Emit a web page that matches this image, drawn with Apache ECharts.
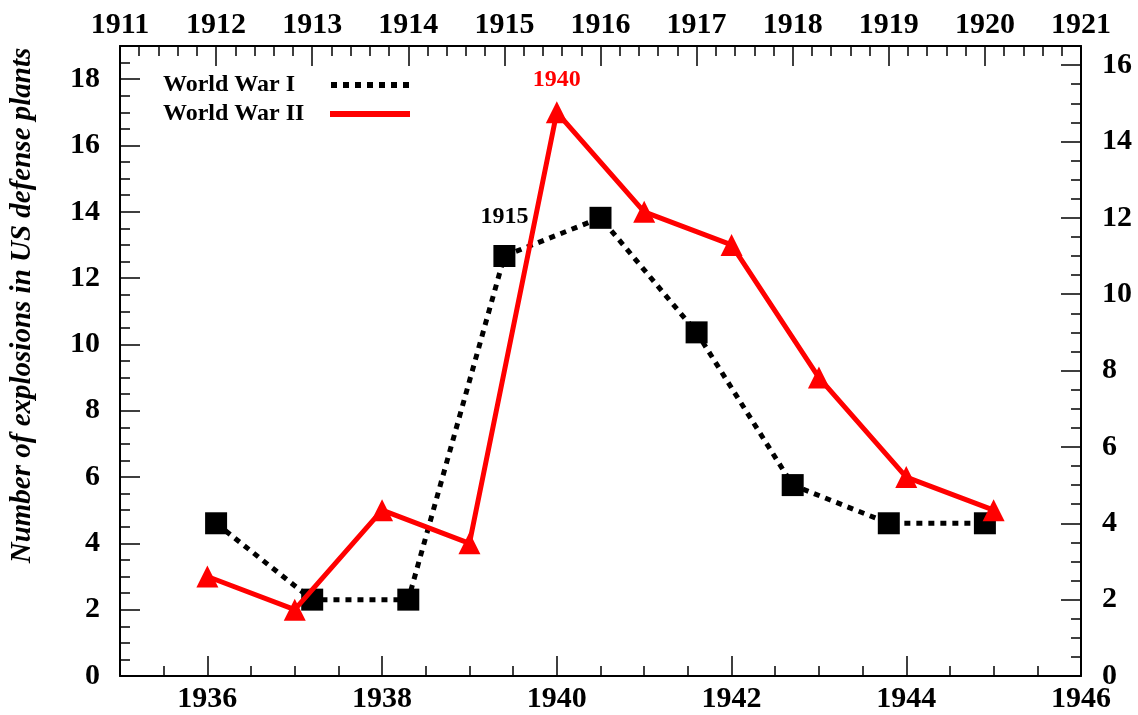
<!DOCTYPE html>
<html>
<head>
<meta charset="utf-8">
<script src="https://cdn.jsdelivr.net/npm/echarts@6/dist/echarts.min.js"></script>
<style>
html, body { margin: 0; padding: 0; background: #fff; }
#chart { width: 1138px; height: 715px; }
</style>
</head>
<body>
<div id="chart"></div>
<script>
// World War I: top axis (years) and right axis (counts)
var wwiYears = [1912, 1913, 1914, 1915, 1916, 1917, 1918, 1919, 1920];
var wwiCounts = [4, 2, 2, 11, 12, 9, 5, 4, 4];
// World War II: bottom axis (years) and left axis (counts)
var wwiiYears = [1936, 1937, 1938, 1939, 1940, 1941, 1942, 1943, 1944, 1945];
var wwiiCounts = [3, 2, 5, 4, 17, 14, 13, 9, 6, 5];
// bottom axis labels / long ticks
var bottomLabels = [1936, 1938, 1940, 1942, 1944, 1946];
var bottomMajorTicks = [1936, 1938, 1940, 1942, 1944];
// years marked with a text label
var wwiMarkYear = 1915;
var wwiiMarkYear = 1940;

var font = '"Liberation Serif", "Times New Roman", serif';
var tickText = { color: '#000', fontFamily: font, fontWeight: 'bold', fontSize: 30 };
var frameLine = { color: '#000', width: 2 };
var tickLine = { color: '#000', width: 1.5 };

function yearText(v) { return String(v); }

function markLabel(year, color, dist) {
	return {
		show: true,
		position: 'top',
		distance: dist,
		formatter: String(year),
		color: color,
		fontFamily: font,
		fontWeight: 'bold',
		fontSize: 24
	};
}

var wwiData = wwiYears.map(function (y, i) {
	var d = { value: [y, wwiCounts[i]] };
	if (y === wwiMarkYear) d.label = markLabel(y, '#000', 16);
	return d;
});
var wwiiData = wwiiYears.map(function (y, i) {
	var d = { value: [y, wwiiCounts[i]] };
	if (y === wwiiMarkYear) d.label = markLabel(y, '#ff0000', 10);
	return d;
});

var option = {
	animation: false,
	backgroundColor: '#fff',
	grid: { left: 120, right: 57, top: 46, bottom: 39 },
	legend: {
		orient: 'vertical',
		align: 'right',
		left: 158,
		top: 68,
		itemGap: 5,
		itemWidth: 80,
		itemHeight: 6,
		selectedMode: false,
		itemStyle: { borderWidth: 0 },
		formatter: function (n) { return '{a|' + n + '}'; },
		textStyle: {
			rich: {
				a: { width: 162, align: 'left', fontFamily: font, fontWeight: 'bold', fontSize: 24, color: '#000', lineHeight: 24 }
			}
		},
		data: [
			{ name: 'World War I', icon: 'path://M0 0h6v6h-6zM12 0h6v6h-6zM24 0h6v6h-6zM36 0h6v6h-6zM48 0h6v6h-6zM60 0h6v6h-6zM72 0h6v6h-6z' },
			{ name: 'World War II', icon: 'rect' }
		]
	},
	xAxis: [
		{
			type: 'value', position: 'bottom', min: 1935, max: 1946, interval: 0.5,
			axisLine: { onZero: false, lineStyle: frameLine },
			axisTick: { inside: true, length: 10, lineStyle: tickLine },
			axisLabel: Object.assign({ customValues: bottomLabels, margin: 8, formatter: yearText }, tickText),
			splitLine: { show: false }
		},
		{
			type: 'value', position: 'bottom', min: 1935, max: 1946,
			axisLine: { show: false, onZero: false },
			axisTick: { inside: true, length: 20, customValues: bottomMajorTicks, lineStyle: tickLine },
			axisLabel: { show: false },
			splitLine: { show: false }
		},
		{
			type: 'value', position: 'top', min: 1911, max: 1921, interval: 1,
			axisLine: { onZero: false, lineStyle: frameLine },
			axisTick: { inside: true, length: 20, lineStyle: tickLine },
			minorTick: { show: true, splitNumber: 5, length: 10, lineStyle: tickLine },
			axisLabel: Object.assign({ margin: 6, formatter: yearText }, tickText),
			splitLine: { show: false }
		}
	],
	yAxis: [
		{
			type: 'value', position: 'left', min: 0, max: 19, interval: 2,
			name: 'Number of explosions in US defense plants',
			nameLocation: 'middle',
			nameRotate: 90,
			nameGap: 83,
			nameTextStyle: {
				color: '#000', fontFamily: font, fontWeight: 'bold', fontStyle: 'italic', fontSize: 29,
				padding: [0, 0, 0, 111]
			},
			axisLine: { onZero: false, lineStyle: frameLine },
			axisTick: { inside: true, length: 20, lineStyle: tickLine },
			minorTick: { show: true, splitNumber: 4, length: 10, lineStyle: tickLine },
			axisLabel: Object.assign({ margin: 20, showMaxLabel: false }, tickText),
			splitLine: { show: false }
		},
		{
			type: 'value', position: 'right', min: 0, max: 16.5, interval: 2,
			axisLine: { onZero: false, lineStyle: frameLine },
			axisTick: { inside: true, length: 20, lineStyle: tickLine },
			minorTick: { show: true, splitNumber: 4, length: 10, lineStyle: tickLine },
			axisLabel: Object.assign({ margin: 21, showMaxLabel: false }, tickText),
			splitLine: { show: false }
		}
	],
	series: [
		{
			name: 'World War I',
			type: 'line',
			xAxisIndex: 2,
			yAxisIndex: 1,
			data: wwiData,
			symbol: 'rect',
			symbolSize: 22,
			itemStyle: { color: '#000' },
			lineStyle: { color: '#000', width: 5, type: [6, 6] },
			z: 2
		},
		{
			name: 'World War II',
			type: 'line',
			xAxisIndex: 0,
			yAxisIndex: 0,
			data: wwiiData,
			symbol: 'triangle',
			symbolSize: 22,
			itemStyle: { color: '#ff0000' },
			lineStyle: { color: '#ff0000', width: 5 },
			z: 3
		}
	]
};

var chart = echarts.init(document.getElementById('chart'));
chart.setOption(option);
</script>
</body>
</html>
